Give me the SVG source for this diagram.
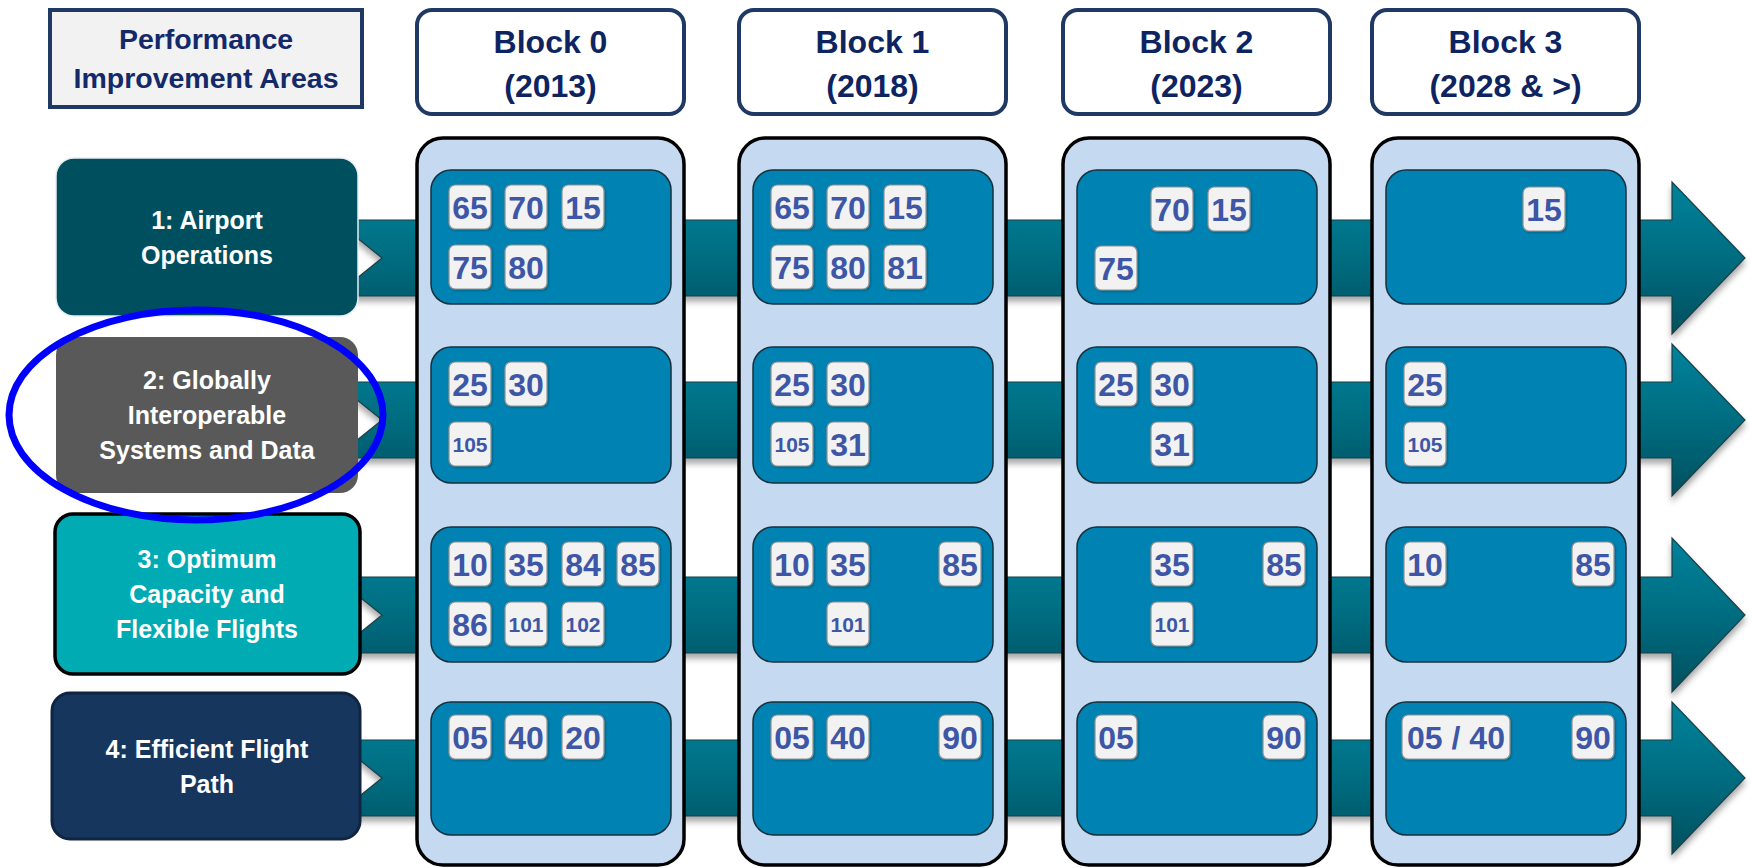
<svg xmlns="http://www.w3.org/2000/svg" width="1752" height="868" viewBox="0 0 1752 868">
<defs>
  <linearGradient id="arrGrad" x1="0" y1="0" x2="0" y2="1">
    <stop offset="0" stop-color="#00839c"/>
    <stop offset="0.5" stop-color="#006c80"/>
    <stop offset="1" stop-color="#00505e"/>
  </linearGradient>
  <filter id="shadow" x="-5%" y="-20%" width="110%" height="150%">
    <feDropShadow dx="0" dy="5" stdDeviation="3" flood-color="#000" flood-opacity="0.35"/>
  </filter>
  <filter id="bshadow" x="-20%" y="-20%" width="140%" height="140%">
    <feDropShadow dx="1" dy="1" stdDeviation="0.8" flood-color="#000" flood-opacity="0.3"/>
  </filter>
</defs>
<style>
  .arrow { fill: url(#arrGrad); stroke: #1d3f46; stroke-width: 1.2; filter: url(#shadow); }
  .hdr { fill: #ffffff; stroke: #1f3864; stroke-width: 4; }
  .hdrt { font-family: "Liberation Sans", Arial, sans-serif; font-weight: bold; font-size: 32px; fill: #0e2461; text-anchor: middle; }
  .perft { font-family: "Liberation Sans", Arial, sans-serif; font-weight: bold; font-size: 28.5px; fill: #14296a; text-anchor: middle; }
  .col { fill: #c5d9f1; stroke: #000000; stroke-width: 3.5; }
  .inner { fill: #0083b3; stroke: #16303c; stroke-width: 1.5; }
  .badge rect { fill: #f2f2f2; stroke: #909090; stroke-width: 1.2; filter: url(#bshadow); }
  .bt { font-family: "Liberation Sans", Arial, sans-serif; font-weight: bold; font-size: 32px; fill: #3d56a6; text-anchor: middle; }
  .bts { font-size: 21px; }
  .nodet { font-family: "Liberation Sans", Arial, sans-serif; font-weight: bold; font-size: 25px; fill: #ffffff; text-anchor: middle; }
</style>
<rect x="0" y="0" width="1752" height="868" fill="#ffffff"/>

<!-- Row arrows (connectors) -->
<g id="connectors">
  <path class="arrow" d="M335,220 L1672,220 L1672,182 L1745,258 L1672,334 L1672,296 L335,296 L382,258 Z"/>
  <path class="arrow" d="M335,382 L1672,382 L1672,344 L1745,420 L1672,496 L1672,458 L335,458 L382,420 Z"/>
  <path class="arrow" d="M335,577 L1672,577 L1672,538 L1745,615 L1672,692 L1672,653 L335,653 L382,615 Z"/>
  <path class="arrow" d="M335,740 L1672,740 L1672,702 L1745,778 L1672,854 L1672,816 L335,816 L382,778 Z"/>
</g>

<!-- Header: Performance Improvement Areas -->
<g id="perf-header">
  <rect x="50" y="10" width="312" height="97" fill="#f2f2f2" stroke="#1f3864" stroke-width="4"/>
  <text class="perft" x="206" y="49">Performance</text>
  <text class="perft" x="206" y="88">Improvement Areas</text>
</g>

<!-- Block headers -->
<g id="block0-header">
  <rect class="hdr" x="417" y="10" width="267" height="104" rx="15"/>
  <text class="hdrt" x="550.5" y="53">Block 0</text>
  <text class="hdrt" x="550.5" y="97">(2013)</text>
</g>
<g id="block1-header">
  <rect class="hdr" x="739" y="10" width="267" height="104" rx="15"/>
  <text class="hdrt" x="872.5" y="53">Block 1</text>
  <text class="hdrt" x="872.5" y="97">(2018)</text>
</g>
<g id="block2-header">
  <rect class="hdr" x="1063" y="10" width="267" height="104" rx="15"/>
  <text class="hdrt" x="1196.5" y="53">Block 2</text>
  <text class="hdrt" x="1196.5" y="97">(2023)</text>
</g>
<g id="block3-header">
  <rect class="hdr" x="1372" y="10" width="267" height="104" rx="15"/>
  <text class="hdrt" x="1505.5" y="53">Block 3</text>
  <text class="hdrt" x="1505.5" y="97">(2028 &amp; &gt;)</text>
</g>

<!-- Block 0 column -->
<g id="block0">
  <rect class="col" x="417" y="138" width="267" height="727" rx="26"/>
  <rect class="inner" x="431" y="170" width="240" height="134" rx="20"/>
  <rect class="inner" x="431" y="347" width="240" height="136" rx="20"/>
  <rect class="inner" x="431" y="527" width="240" height="135" rx="20"/>
  <rect class="inner" x="431" y="702" width="240" height="133" rx="20"/>
  <g class="badge"><rect x="449" y="185" width="42" height="44" rx="6"/><text class="bt" x="470" y="218.5">65</text></g>
  <g class="badge"><rect x="505" y="185" width="42" height="44" rx="6"/><text class="bt" x="526" y="218.5">70</text></g>
  <g class="badge"><rect x="562" y="185" width="42" height="44" rx="6"/><text class="bt" x="583" y="218.5">15</text></g>
  <g class="badge"><rect x="449" y="245" width="42" height="44" rx="6"/><text class="bt" x="470" y="278.5">75</text></g>
  <g class="badge"><rect x="505" y="245" width="42" height="44" rx="6"/><text class="bt" x="526" y="278.5">80</text></g>
  <g class="badge"><rect x="449" y="362" width="42" height="44" rx="6"/><text class="bt" x="470" y="395.5">25</text></g>
  <g class="badge"><rect x="505" y="362" width="42" height="44" rx="6"/><text class="bt" x="526" y="395.5">30</text></g>
  <g class="badge"><rect x="449" y="422" width="42" height="44" rx="6"/><text class="bt bts" x="470" y="451.5">105</text></g>
  <g class="badge"><rect x="449" y="542" width="42" height="44" rx="6"/><text class="bt" x="470" y="575.5">10</text></g>
  <g class="badge"><rect x="505" y="542" width="42" height="44" rx="6"/><text class="bt" x="526" y="575.5">35</text></g>
  <g class="badge"><rect x="562" y="542" width="42" height="44" rx="6"/><text class="bt" x="583" y="575.5">84</text></g>
  <g class="badge"><rect x="617" y="542" width="42" height="44" rx="6"/><text class="bt" x="638" y="575.5">85</text></g>
  <g class="badge"><rect x="449" y="602" width="42" height="44" rx="6"/><text class="bt" x="470" y="635.5">86</text></g>
  <g class="badge"><rect x="505" y="602" width="42" height="44" rx="6"/><text class="bt bts" x="526" y="631.5">101</text></g>
  <g class="badge"><rect x="562" y="602" width="42" height="44" rx="6"/><text class="bt bts" x="583" y="631.5">102</text></g>
  <g class="badge"><rect x="449" y="715" width="42" height="44" rx="6"/><text class="bt" x="470" y="748.5">05</text></g>
  <g class="badge"><rect x="505" y="715" width="42" height="44" rx="6"/><text class="bt" x="526" y="748.5">40</text></g>
  <g class="badge"><rect x="562" y="715" width="42" height="44" rx="6"/><text class="bt" x="583" y="748.5">20</text></g>
</g>

<!-- Block 1 column -->
<g id="block1">
  <rect class="col" x="739" y="138" width="267" height="727" rx="26"/>
  <rect class="inner" x="753" y="170" width="240" height="134" rx="20"/>
  <rect class="inner" x="753" y="347" width="240" height="136" rx="20"/>
  <rect class="inner" x="753" y="527" width="240" height="135" rx="20"/>
  <rect class="inner" x="753" y="702" width="240" height="133" rx="20"/>
  <g class="badge"><rect x="771" y="185" width="42" height="44" rx="6"/><text class="bt" x="792" y="218.5">65</text></g>
  <g class="badge"><rect x="827" y="185" width="42" height="44" rx="6"/><text class="bt" x="848" y="218.5">70</text></g>
  <g class="badge"><rect x="884" y="185" width="42" height="44" rx="6"/><text class="bt" x="905" y="218.5">15</text></g>
  <g class="badge"><rect x="771" y="245" width="42" height="44" rx="6"/><text class="bt" x="792" y="278.5">75</text></g>
  <g class="badge"><rect x="827" y="245" width="42" height="44" rx="6"/><text class="bt" x="848" y="278.5">80</text></g>
  <g class="badge"><rect x="884" y="245" width="42" height="44" rx="6"/><text class="bt" x="905" y="278.5">81</text></g>
  <g class="badge"><rect x="771" y="362" width="42" height="44" rx="6"/><text class="bt" x="792" y="395.5">25</text></g>
  <g class="badge"><rect x="827" y="362" width="42" height="44" rx="6"/><text class="bt" x="848" y="395.5">30</text></g>
  <g class="badge"><rect x="771" y="422" width="42" height="44" rx="6"/><text class="bt bts" x="792" y="451.5">105</text></g>
  <g class="badge"><rect x="827" y="422" width="42" height="44" rx="6"/><text class="bt" x="848" y="455.5">31</text></g>
  <g class="badge"><rect x="771" y="542" width="42" height="44" rx="6"/><text class="bt" x="792" y="575.5">10</text></g>
  <g class="badge"><rect x="827" y="542" width="42" height="44" rx="6"/><text class="bt" x="848" y="575.5">35</text></g>
  <g class="badge"><rect x="939" y="542" width="42" height="44" rx="6"/><text class="bt" x="960" y="575.5">85</text></g>
  <g class="badge"><rect x="827" y="602" width="42" height="44" rx="6"/><text class="bt bts" x="848" y="631.5">101</text></g>
  <g class="badge"><rect x="771" y="715" width="42" height="44" rx="6"/><text class="bt" x="792" y="748.5">05</text></g>
  <g class="badge"><rect x="827" y="715" width="42" height="44" rx="6"/><text class="bt" x="848" y="748.5">40</text></g>
  <g class="badge"><rect x="939" y="715" width="42" height="44" rx="6"/><text class="bt" x="960" y="748.5">90</text></g>
</g>

<!-- Block 2 column -->
<g id="block2">
  <rect class="col" x="1063" y="138" width="267" height="727" rx="26"/>
  <rect class="inner" x="1077" y="170" width="240" height="134" rx="20"/>
  <rect class="inner" x="1077" y="347" width="240" height="136" rx="20"/>
  <rect class="inner" x="1077" y="527" width="240" height="135" rx="20"/>
  <rect class="inner" x="1077" y="702" width="240" height="133" rx="20"/>
  <g class="badge"><rect x="1151" y="187" width="42" height="44" rx="6"/><text class="bt" x="1172" y="220.5">70</text></g>
  <g class="badge"><rect x="1208" y="187" width="42" height="44" rx="6"/><text class="bt" x="1229" y="220.5">15</text></g>
  <g class="badge"><rect x="1095" y="246" width="42" height="44" rx="6"/><text class="bt" x="1116" y="279.5">75</text></g>
  <g class="badge"><rect x="1095" y="362" width="42" height="44" rx="6"/><text class="bt" x="1116" y="395.5">25</text></g>
  <g class="badge"><rect x="1151" y="362" width="42" height="44" rx="6"/><text class="bt" x="1172" y="395.5">30</text></g>
  <g class="badge"><rect x="1151" y="422" width="42" height="44" rx="6"/><text class="bt" x="1172" y="455.5">31</text></g>
  <g class="badge"><rect x="1151" y="542" width="42" height="44" rx="6"/><text class="bt" x="1172" y="575.5">35</text></g>
  <g class="badge"><rect x="1263" y="542" width="42" height="44" rx="6"/><text class="bt" x="1284" y="575.5">85</text></g>
  <g class="badge"><rect x="1151" y="602" width="42" height="44" rx="6"/><text class="bt bts" x="1172" y="631.5">101</text></g>
  <g class="badge"><rect x="1095" y="715" width="42" height="44" rx="6"/><text class="bt" x="1116" y="748.5">05</text></g>
  <g class="badge"><rect x="1263" y="715" width="42" height="44" rx="6"/><text class="bt" x="1284" y="748.5">90</text></g>
</g>

<!-- Block 3 column -->
<g id="block3">
  <rect class="col" x="1372" y="138" width="267" height="727" rx="26"/>
  <rect class="inner" x="1386" y="170" width="240" height="134" rx="20"/>
  <rect class="inner" x="1386" y="347" width="240" height="136" rx="20"/>
  <rect class="inner" x="1386" y="527" width="240" height="135" rx="20"/>
  <rect class="inner" x="1386" y="702" width="240" height="133" rx="20"/>
  <g class="badge"><rect x="1523" y="187" width="42" height="44" rx="6"/><text class="bt" x="1544" y="220.5">15</text></g>
  <g class="badge"><rect x="1404" y="362" width="42" height="44" rx="6"/><text class="bt" x="1425" y="395.5">25</text></g>
  <g class="badge"><rect x="1404" y="422" width="42" height="44" rx="6"/><text class="bt bts" x="1425" y="451.5">105</text></g>
  <g class="badge"><rect x="1404" y="542" width="42" height="44" rx="6"/><text class="bt" x="1425" y="575.5">10</text></g>
  <g class="badge"><rect x="1572" y="542" width="42" height="44" rx="6"/><text class="bt" x="1593" y="575.5">85</text></g>
  <g class="badge"><rect x="1402" y="715" width="108" height="44" rx="6"/><text class="bt" x="1456" y="748.5">05 / 40</text></g>
  <g class="badge"><rect x="1572" y="715" width="42" height="44" rx="6"/><text class="bt" x="1593" y="748.5">90</text></g>
</g>

<!-- Performance area nodes -->
<g id="area1">
  <rect x="56" y="158" width="302" height="158" rx="18" fill="#004f5f" stroke="#e8eef0" stroke-width="1.5"/>
  <text class="nodet" x="207" y="228.5">1: Airport</text>
  <text class="nodet" x="207" y="263.5">Operations</text>
</g>
<g id="area2">
  <rect x="56" y="337" width="302" height="156" rx="18" fill="#595959"/>
  <text class="nodet" x="207" y="389">2: Globally</text>
  <text class="nodet" x="207" y="424">Interoperable</text>
  <text class="nodet" x="207" y="459">Systems and Data</text>
</g>
<g id="area3">
  <rect x="55" y="514" width="305" height="160" rx="18" fill="#00abb4" stroke="#000000" stroke-width="3.5"/>
  <text class="nodet" x="207" y="568">3: Optimum</text>
  <text class="nodet" x="207" y="603">Capacity and</text>
  <text class="nodet" x="207" y="638">Flexible Flights</text>
</g>
<g id="area4">
  <rect x="52" y="693" width="308" height="146" rx="18" fill="#17365d" stroke="#0f2542" stroke-width="3"/>
  <text class="nodet" x="207" y="757.5">4: Efficient Flight</text>
  <text class="nodet" x="207" y="792.5">Path</text>
</g>

<!-- Highlight ellipse -->
<g id="highlight">
  <ellipse cx="196" cy="415" rx="187" ry="105" fill="none" stroke="#0000ff" stroke-width="7"/>
</g>
</svg>
